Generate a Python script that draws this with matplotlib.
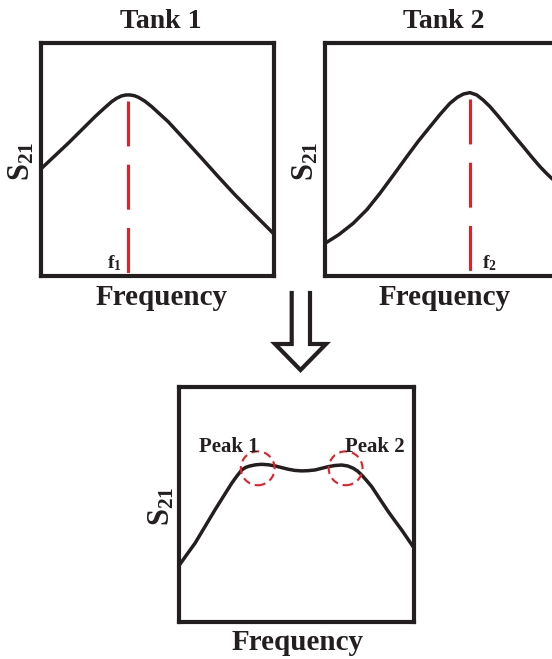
import matplotlib.pyplot as plt
from matplotlib.patches import Circle

plt.rcParams['font.family'] = ['Liberation Serif', 'DejaVu Serif']
plt.rcParams['font.weight'] = 'bold'
plt.rcParams['mathtext.fontset'] = 'custom'
plt.rcParams['mathtext.rm'] = 'Liberation Serif:bold'
plt.rcParams['mathtext.bf'] = 'Liberation Serif:bold'

# Tank 1 response (frequency, S21)
tank1_f = [0, 11.7, 23.2, 27.0, 30.3, 32.5, 34.6, 36.5, 38.2, 40.0, 41.8, 44.5, 47.5,
           54.6, 61.8, 69.0, 76.1, 83.3, 90.4, 100]
tank1_s = [46, 57.0, 68.4, 71.9, 74.8, 76.3, 77.3, 77.7, 77.7, 77.4, 76.7, 75.1, 72.7,
           66.2, 58.4, 50.5, 42.6, 34.8, 27.6, 18]
f1 = 37.2
f1_top = 75.2

# Tank 2 response
tank2_f = [0, 6.0, 12.1, 18.0, 23.6, 29.5, 35.1, 40.0, 45.1, 49.5, 53.6, 56.8, 59.4,
           62.2, 65.1, 67.8, 70.8, 74.5, 78.0, 81.5, 85.1, 88.7, 92.3, 95.0, 97.3, 100]
tank2_s = [14, 17.8, 22.6, 28.5, 35.5, 43.5, 51.2, 57.8, 64.1, 69.5, 74.1, 76.7, 78.1,
           78.7, 77.7, 75.6, 72.7, 68.4, 64.1, 59.8, 55.5, 51.1, 46.9, 44.1, 41.9, 39.6]
f2 = 62.2
f2_top = 75.8

# coupled response (two peaks)
both_f = [0, 3.4, 6.8, 11.0, 15.3, 19.0, 22.4, 24.7, 26.7, 28.4, 30.2, 32.7, 35.2,
          38.0, 40.9, 43.7, 46.5, 49.3, 52.2, 55.0, 57.9, 60.7, 63.5, 66.4, 69.2,
          71.8, 74.2, 76.0, 77.7, 80.0, 82.0, 85.5, 89.1, 92.0, 94.8, 100]
both_s = [24, 28.8, 33.5, 40.5, 47.7, 53.6, 59.0, 62.2, 64.7, 65.8, 66.4, 66.9, 67.1,
          66.9, 66.4, 65.7, 65.0, 64.5, 64.3, 64.4, 64.7, 65.4, 66.1, 66.6, 66.8,
          66.4, 65.4, 64.2, 62.6, 60.0, 57.6, 52.3, 46.9, 42.9, 39.1, 31.5]
peak_labels = ['Peak 1', 'Peak 2']
peak_centers = [(33.5, 65.4), (70.9, 65.4)]
peak_text_x = [21.1, 83.4]

# hollow arrow outline in figure pixels
arrow_x = [291.7, 291.7, 275, 300.5, 326, 310, 310]
arrow_y = [293, 344, 344, 370, 344, 344, 293]

W, H = 552, 659
RED = '#ED1C24'
INK = '#231F20'
fig = plt.figure(figsize=(W / 100, H / 100), dpi=100)


def make_ax(left, top, w, h):
    ax = fig.add_axes([left / W, (H - top - h) / H, w / W, h / H])
    ax.set_xlim(0, 100)
    ax.set_ylim(0, 100)
    ax.set_xticks([])
    ax.set_yticks([])
    for s in ax.spines.values():
        s.set_linewidth(3)
        s.set_color(INK)
    return ax


def labels(ax, fx, sx, sy, fy):
    ax.text(fx, fy, 'Frequency', transform=ax.transAxes, ha='center', va='baseline',
            fontsize=21, color=INK)
    ax.text(sx, sy, r'$\mathrm{S_{21}}$', transform=ax.transAxes, ha='center', va='center',
            rotation=90, fontsize=22, color=INK)


# panel 1
ax1 = make_ax(41, 43, 233, 233)
ax1.plot(tank1_f, tank1_s, color=INK, lw=2.5, solid_capstyle='round', solid_joinstyle='round')
ax1.plot([f1, f1], [f1_top, 0], color=RED, lw=2.2, dashes=(14.7, 6.0))
ax1.text(28.3, 3.4, r'$\mathrm{f_1}$', fontsize=14, ha='left', va='baseline', color=INK)
ax1.text(0.513, 1.065, 'Tank 1', transform=ax1.transAxes, ha='center', va='baseline',
         fontsize=20, color=INK)
labels(ax1, 0.519, -0.082, 0.494, -0.124)

# panel 2 (cut off on the right)
ax2 = make_ax(325, 43, 233, 233)
ax2.plot(tank2_f, tank2_s, color=INK, lw=2.5, solid_capstyle='round', solid_joinstyle='round')
ax2.plot([f2, f2], [f2_top, 0], color=RED, lw=2.2, dashes=(14.7, 6.0))
ax2.text(67.4, 3.4, r'$\mathrm{f_2}$', fontsize=14, ha='left', va='baseline', color=INK)
ax2.text(0.509, 1.065, 'Tank 2', transform=ax2.transAxes, ha='center', va='baseline',
         fontsize=20, color=INK)
labels(ax2, 0.511, -0.082, 0.494, -0.124)

# bottom panel
ax3 = make_ax(179, 387, 235, 235)
ax3.plot(both_f, both_s, color=INK, lw=2.5, solid_capstyle='round', solid_joinstyle='round')
for c, lab, tx in zip(peak_centers, peak_labels, peak_text_x):
    ax3.add_patch(Circle(c, 7.2, fill=False, ec=RED, lw=1.5, linestyle=(0, (3.8, 2.4)), zorder=3))
    ax3.text(tx, 72.5, lab, ha='center', va='baseline', fontsize=15, color=INK)
labels(ax3, 0.506, -0.072, 0.494, -0.119)

# arrow
ov = fig.add_axes([0, 0, 1, 1])
ov.set_xlim(0, W)
ov.set_ylim(H, 0)
ov.axis('off')
ov.patch.set_alpha(0)
ov.plot(arrow_x, arrow_y, color=INK, lw=3, solid_joinstyle='miter')

fig.savefig('out.png', dpi=100)
